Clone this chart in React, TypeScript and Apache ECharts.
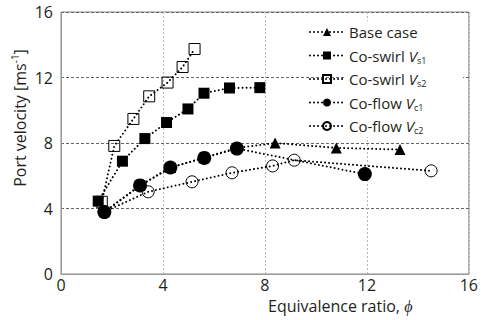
import React, { useEffect, useRef } from "react";
import * as echarts from "echarts";

const xTicks = [0, 4, 8, 12, 16];
const yTicks = [0, 4, 8, 12, 16];

const baseX = [1.7, 3.1, 4.3, 5.6, 6.9, 8.4, 10.8, 13.3];
const baseY = [3.8, 5.4, 6.5, 7.1, 7.7, 8.0, 7.7, 7.6];

const vs1X = [1.46, 2.41, 3.29, 4.14, 4.98, 5.61, 6.61, 7.8];
const vs1Y = [4.45, 6.89, 8.27, 9.25, 10.08, 11.04, 11.36, 11.38];

const vs2X = [1.6, 2.09, 2.84, 3.46, 4.18, 4.77, 5.24];
const vs2Y = [4.41, 7.82, 9.47, 10.85, 11.69, 12.64, 13.74];

const vc1X = [1.7, 3.1, 4.29, 5.62, 6.9, 11.92];
const vc1Y = [3.78, 5.41, 6.5, 7.09, 7.66, 6.1];

const vc2X = [1.7, 3.42, 5.14, 6.71, 8.3, 9.15, 14.52];
const vc2Y = [3.8, 5.02, 5.63, 6.18, 6.6, 6.95, 6.3];

const seriesNames = ["Base case", "Co-swirl Vs1", "Co-swirl Vs2", "Co-flow Vc1", "Co-flow Vc2"];
const legendRich: Record<string, string> = {
  "Base case": "{n|Base case}",
  "Co-swirl Vs1": "{n|Co-swirl }{i|V}{s|s1}",
  "Co-swirl Vs2": "{n|Co-swirl }{i|V}{s|s2}",
  "Co-flow Vc1": "{n|Co-flow }{i|V}{s|c1}",
  "Co-flow Vc2": "{n|Co-flow }{i|V}{s|c2}",
};

const FONT = "Open Sans";
const TXT = "#231f20";

function pairs(xs: number[], ys: number[]) {
  return xs.map((x, i) => [x, ys[i]]);
}

export default function App() {
  const ref = useRef<HTMLDivElement>(null);
  useEffect(() => {
    if (!ref.current) return;
    const chart = echarts.init(ref.current, undefined, { renderer: "svg" });
    const lineStyle = { color: "#000", width: 2, type: [0.01, 4] as any, cap: "round" as any };
    const mk = (
      name: string,
      xs: number[],
      ys: number[],
      symbol: string,
      size: number,
      open: boolean
    ) => ({
      type: "line",
      name,
      data: pairs(xs, ys),
      symbol,
      symbolSize: size,
      showSymbol: true,
      lineStyle,
      itemStyle: open
        ? { color: "rgba(255,255,255,0)", borderColor: "#000", borderWidth: 1 }
        : { color: "#000", borderColor: "#000", borderWidth: 0 },
      emphasis: { disabled: true },
      z: 2,
    });
    chart.setOption({
      animation: false,
      textStyle: { fontFamily: FONT, color: TXT },
      grid: {
        left: 61,
        right: 12,
        top: 12,
        bottom: 46,
        show: true,
        borderColor: "#888",
        borderWidth: 1,
      },
      xAxis: {
        type: "value",
        min: 0,
        max: 16,
        interval: 4,
        axisLine: { show: true, lineStyle: { color: "#999" } },
        axisTick: { show: false },
        axisLabel: { fontSize: 16, color: TXT, fontFamily: FONT, margin: 3, lineHeight: 16 },
        splitLine: { show: true, lineStyle: { color: "#b5b5b5", type: [2, 2], width: 1 } },
      },
      yAxis: {
        type: "value",
        min: 0,
        max: 16,
        interval: 4,
        axisLine: { show: true, lineStyle: { color: "#999" } },
        axisTick: { show: false },
        axisLabel: { fontSize: 16, color: TXT, fontFamily: FONT, margin: 8 },
        splitLine: { show: true, lineStyle: { color: "#666", type: [3, 2], width: 1 } },
      },
      legend: {
        data: seriesNames,
        orient: "vertical",
        left: 309,
        top: 23,
        itemWidth: 34,
        itemHeight: 10,
        itemGap: 5.5,
        padding: 0,
        formatter: (n: string) => legendRich[n],
        textStyle: {
          color: TXT,
          fontFamily: FONT,
          fontSize: 15,
          lineHeight: 18,
          rich: {
            n: { fontSize: 15, fontFamily: FONT, color: TXT, lineHeight: 18 },
            i: { fontSize: 15, fontFamily: FONT, color: TXT, fontStyle: "italic", lineHeight: 18 },
            s: { fontSize: 9, fontFamily: FONT, color: TXT, verticalAlign: "bottom", lineHeight: 14 },
          },
        },
      },
      graphic: [
        {
          type: "rect",
          z: 3,
          shape: { x: 345, y: 21, width: 118, height: 116 },
          style: { fill: "#fff" },
        },
        {
          type: "text",
          x: 20,
          y: 118,
          rotation: Math.PI / 2,
          style: {
            text: "{n|Port velocity [ms}{s|-1}{n|]}",
            fontFamily: FONT,
            fill: TXT,
            align: "center",
            verticalAlign: "middle",
            rich: {
              n: { fontSize: 16, fontFamily: FONT, fill: TXT, lineHeight: 20 },
              s: { fontSize: 10, fontFamily: FONT, fill: TXT, verticalAlign: "top", lineHeight: 14 },
            },
          },
        },
        {
          type: "text",
          x: 268,
          y: 306,
          style: {
            text: "{n|Equivalence ratio, }{i|ϕ}",
            fontFamily: FONT,
            fill: TXT,
            align: "left",
            verticalAlign: "middle",
            rich: {
              n: { fontSize: 16, fontFamily: FONT, fill: TXT, lineHeight: 18 },
              i: { fontSize: 16, fontFamily: FONT, fill: TXT, fontStyle: "italic", lineHeight: 18 },
            },
          },
        },
      ],
      series: [
        mk("Base case", baseX, baseY, "triangle", 11, false),
        mk("Co-swirl Vs1", vs1X, vs1Y, "rect", 11, false),
        mk("Co-swirl Vs2", vs2X, vs2Y, "rect", 11, true),
        mk("Co-flow Vc1", vc1X, vc1Y, "circle", 14, false),
        mk("Co-flow Vc2", vc2X, vc2Y, "circle", 12, true),
      ],
    });
    return () => chart.dispose();
  }, []);
  return (
    <div
      ref={ref}
      style={{ position: "absolute", left: 0, top: 0, width: 481, height: 320 }}
    />
  );
}
